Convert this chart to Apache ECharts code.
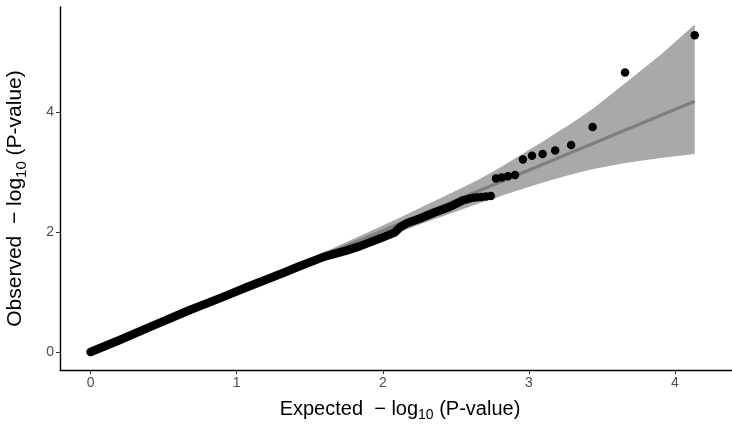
<!DOCTYPE html>
<html>
<head>
<meta charset="utf-8">
<script src="https://cdn.jsdelivr.net/npm/echarts@6/dist/echarts.min.js"></script>
<style>
  html, body { margin: 0; padding: 0; background: #fff; }
  #chart { width: 732px; height: 429px; }
</style>
</head>
<body>
<div id="chart"></div>
<script>
// dense part of the observed points (drawn as a thick stroke of overlapping dots)
const traceX = [0, 0.2, 0.4, 0.68, 0.9, 1.09, 1.3, 1.43, 1.6, 1.75, 1.84, 2.0, 2.08, 2.12, 2.16, 2.25, 2.35, 2.46, 2.55];
const traceY = [0, 0.2, 0.41, 0.7, 0.91, 1.1, 1.3, 1.43, 1.59, 1.69, 1.76, 1.91, 1.99, 2.08, 2.14, 2.22, 2.32, 2.42, 2.53];

// single points in the upper tail
const pointX = [2.572, 2.596, 2.621, 2.648, 2.676, 2.707, 2.74, 2.775, 2.814, 2.857, 2.905,
                2.959, 3.021, 3.094, 3.18, 3.289, 3.436, 3.658, 4.135];
const pointY = [2.54, 2.56, 2.57, 2.58, 2.585, 2.59, 2.60, 2.89, 2.91, 2.93, 2.95,
                3.21, 3.27, 3.30, 3.36, 3.45, 3.75, 4.66, 5.28];

// confidence band
const bandX  = [0, 0.5, 1.0, 1.36, 1.6, 1.84, 2.0, 2.14, 2.3, 2.45, 2.55, 2.66, 2.78, 2.86, 2.96, 3.09, 3.18, 3.29, 3.44, 3.658, 3.9, 4.135];
const bandHi = [0, 0.515, 1.031, 1.408, 1.668, 1.929, 2.108, 2.265, 2.455, 2.63, 2.745, 2.88, 3.04, 3.16, 3.31, 3.50, 3.64, 3.81, 4.06, 4.48, 4.95, 5.46];
const bandLo = [0, 0.485, 0.969, 1.309, 1.538, 1.758, 1.903, 2.021, 2.165, 2.295, 2.385, 2.48, 2.575, 2.64, 2.72, 2.82, 2.885, 2.96, 3.05, 3.15, 3.235, 3.30];

// reference line
const refX = [0, 4.135];
const refY = [0, 4.18];

const xTicks = [0, 1, 2, 3, 4];
const yTicks = [0, 2, 4];

const chart = echarts.init(document.getElementById('chart'));

const font = 'Liberation Sans, Arial, Helvetica, sans-serif';
function titleRich(size) {
  return {
    a: { fontSize: size, color: '#000', fontFamily: font },
    s: { fontSize: Math.round(size * 0.7), color: '#000', fontFamily: font, verticalAlign: 'bottom', padding: [Math.round(size * 0.55), 0, 0, 0] }
  };
}

function axisCommon(ticks) {
  return {
    type: 'value',
    splitLine: { show: false },
    axisLine: { onZero: false, lineStyle: { color: '#000', width: 1.4 } },
    axisTick: { length: 4, customValues: ticks, lineStyle: { color: '#333', width: 1 } },
    axisLabel: { customValues: ticks, color: '#4d4d4d', fontSize: 14, fontFamily: font, margin: 6 }
  };
}

const option = {
  animation: false,
  grid: { left: 60, right: 0, top: 7, bottom: 59, outerBoundsMode: 'none' },
  xAxis: Object.assign(axisCommon(xTicks), {
    min: -0.209, max: 4.39,
    name: '{a|Expected  − log}{s|10}{a| (P-value)}',
    nameLocation: 'middle', nameGap: 27,
    nameTextStyle: { rich: titleRich(20), padding: [0, 0, 0, 8] }
  }),
  yAxis: Object.assign(axisCommon(yTicks), {
    min: -0.3, max: 5.75,
    name: '{a|Observed  − log}{s|10}{a| (P-value)}',
    nameLocation: 'middle', nameGap: 31,
    nameTextStyle: { rich: titleRich(21), padding: [0, 20, 0, 0] }
  }),
  series: [
    {
      type: 'custom',
      silent: true,
      z: 1,
      data: bandX.map((x, i) => [x, bandHi[i], bandLo[i]]),
      renderItem: function (params, api) {
        if (params.dataIndex !== 0) return;
        const pts = [];
        for (let i = 0; i < bandX.length; i++) pts.push(api.coord([bandX[i], bandHi[i]]));
        for (let i = bandX.length - 1; i >= 0; i--) pts.push(api.coord([bandX[i], bandLo[i]]));
        return { type: 'polygon', shape: { points: pts }, style: { fill: '#a9a9a9' } };
      }
    },
    {
      type: 'line',
      z: 2,
      symbol: 'none',
      data: refX.map((x, i) => [x, refY[i]]),
      lineStyle: { color: '#7f7f7f', width: 3.2 }
    },
    {
      type: 'line',
      z: 3,
      symbol: 'none',
      data: traceX.map((x, i) => [x, traceY[i]]),
      lineStyle: { color: '#000', width: 8.5, cap: 'round', join: 'round' }
    },
    {
      type: 'scatter',
      z: 4,
      symbolSize: 8.5,
      data: pointX.map((x, i) => [x, pointY[i]]),
      itemStyle: { color: '#000', opacity: 1 }
    }
  ]
};

chart.setOption(option);
</script>
</body>
</html>
